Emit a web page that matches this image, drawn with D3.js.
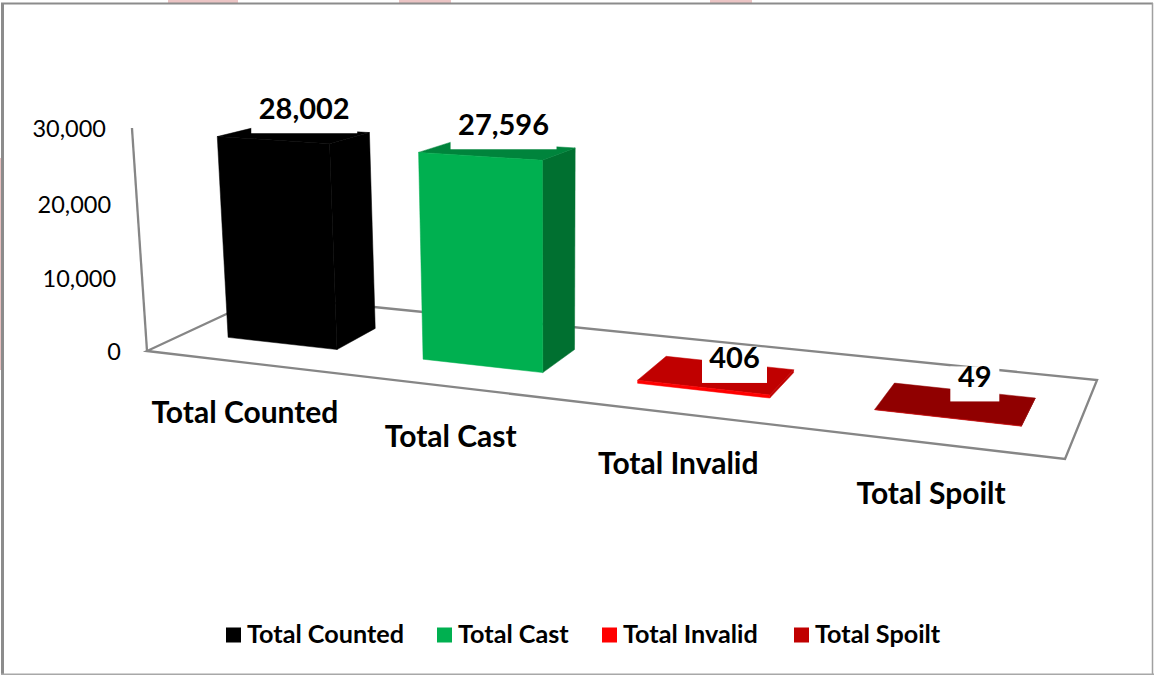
<!DOCTYPE html>
<html><head><meta charset="utf-8">
<script src="https://cdn.jsdelivr.net/npm/d3@7"></script>
<style>html,body{margin:0;padding:0;background:#fff}svg{display:block}text{font-family:Lato,"Noto Sans",sans-serif;fill:#000}</style>
</head><body><svg id="c" width="1154" height="675"></svg>
<script>
const categories = ["Total Counted","Total Cast","Total Invalid","Total Spoilt"];
const values = [28002,27596,406,49];
const valueLabels = ["28,002","27,596","406","49"];
const tickValues = [0,10000,20000,30000];
const legendColors = ["#000000","#00B050","#FF0000","#C00000"];
const frontColors = ["#000000","#00B050","#FF0000","#C00000"];
const topColors = ["#000000","#00843C","#C00000","#900000"];
const sideColors = ["#000000","#007030","#C00000","#900000"];

const W=1154,H=675;
const svg=d3.select("#c");

// border & backdrop fragments
const bg=svg.append("g");
[[168,238],[399,451],[710,752]].forEach(([a,b])=>bg.append("rect").attr("x",a).attr("y",0).attr("width",b-a).attr("height",3).attr("fill","#EBC4C4"));
bg.append("rect").attr("x",0).attr("y",158).attr("width",2).attr("height",212).attr("fill","#E8C0C0");
bg.append("path").attr("d",`M1,3.5H${W-1}`).attr("stroke","#8c8c8c").attr("stroke-width",2);
bg.append("path").attr("d",`M2.5,3V${H}`).attr("stroke","#8c8c8c").attr("stroke-width",3);
bg.append("path").attr("d",`M${W-1.5},3V${H}`).attr("stroke","#a0a0a0").attr("stroke-width",1.5);
bg.append("path").attr("d",`M1,${H-0.7}H${W}`).attr("stroke","#a8a8a8").attr("stroke-width",1.5);

// camera: floor homography plus vertical lift
const M={a:719.6,b:147.3,c:147,d:22.5,e:-22.3,f:351,g:-0.1863,h:0.1105,vx:555,vy:6400,lam:-0.03555,k:0.035};
const zScale=d3.scaleLinear().domain([0,30000]).range([0,1]);
function proj(u,v,val=0){
  const t=zScale(val)*M.lam*(1-M.k*v), w=M.g*u+M.h*v+1;
  const X=M.a*u+M.b*v+M.c+t*M.vx, Y=M.d*u+M.e*v+M.f+t*M.vy, Z=w+t;
  return [X/Z,Y/Z];
}
const uScale=d3.scaleBand().domain(categories).range([0.003,1.003]).paddingInner(0.43).paddingOuter(0.215);
const vFront=0.31,vBack=0.67;
const line=d3.line();

// floor and wall axis
const grey="#868686";
const g=svg.append("g");
g.append("path").attr("d",line([proj(0,0),proj(1,0),proj(1,1),proj(0,1)])+"Z").attr("fill","none").attr("stroke",grey).attr("stroke-width",2.3);
g.append("path").attr("d",line([proj(0,0),proj(0,0,30000)])).attr("fill","none").attr("stroke",grey).attr("stroke-width",2.3);

// y tick labels
const tickFmt=d3.format(",");
svg.append("g").selectAll("text").data(tickValues).join("text")
  .attr("x",d=>proj(0,0,d)[0]-26).attr("y",d=>proj(0,0,d)[1]+3)
  .attr("text-anchor","end").attr("dominant-baseline","middle").attr("font-size",23.5).text(tickFmt);

// bars
const bars=svg.append("g").selectAll("g").data(categories).join("g");
bars.each(function(cat,i){
  const u0=uScale(cat),u1=u0+uScale.bandwidth(),val=values[i],s=d3.select(this);
  const poly=(pts,fill)=>s.append("path").attr("d",line(pts)+"Z").attr("fill",fill).attr("stroke",fill).attr("stroke-width",0.5);
  poly([proj(u1,vFront),proj(u1,vBack),proj(u1,vBack,val),proj(u1,vFront,val)],sideColors[i]);
  poly([proj(u0,vFront,val),proj(u1,vFront,val),proj(u1,vBack,val),proj(u0,vBack,val)],topColors[i]);
  poly([proj(u0,vFront),proj(u1,vFront),proj(u1,vFront,val),proj(u0,vFront,val)],frontColors[i]);
});

// value labels (white plates)
const nudges=[[-10,-18],[-11,-17],[5.5,-2],[11,-11]];
const plateW=[106,106,65,49];
const lab=svg.append("g").selectAll("g").data(categories).join("g").attr("transform",(c,i)=>{
  const m=uScale(c)+uScale.bandwidth()/2,p=proj(m,vBack,values[i]);
  return `translate(${p[0]+nudges[i][0]},${p[1]+nudges[i][1]})`;
});
lab.append("rect").attr("x",(c,i)=>-plateW[i]/2).attr("y",-13).attr("width",(c,i)=>plateW[i]).attr("height",35).attr("fill","#fff");
lab.append("text").attr("text-anchor","middle").attr("dominant-baseline","middle").attr("font-size",29).attr("font-weight",700).text((c,i)=>valueLabels[i]);

// category labels
svg.append("g").selectAll("text").data(categories).join("text")
  .attr("x",c=>proj(uScale(c)+uScale.bandwidth()/2,0)[0])
  .attr("y",c=>proj(uScale(c)+uScale.bandwidth()/2,0)[1]+53)
  .attr("text-anchor","middle").attr("dominant-baseline","middle").attr("font-size",30).attr("font-weight",700).text(c=>c);

// legend
const legendX=[226,437,602,794];
const lg=svg.append("g").selectAll("g").data(categories).join("g").attr("transform",(c,i)=>`translate(${legendX[i]},635)`);
lg.append("rect").attr("x",0).attr("y",-7.5).attr("width",15).attr("height",15).attr("fill",(c,i)=>legendColors[i]);
lg.append("text").attr("x",21).attr("y",2).attr("dominant-baseline","middle").attr("font-size",25.2).attr("font-weight",700).text(c=>c);
</script></body></html>
